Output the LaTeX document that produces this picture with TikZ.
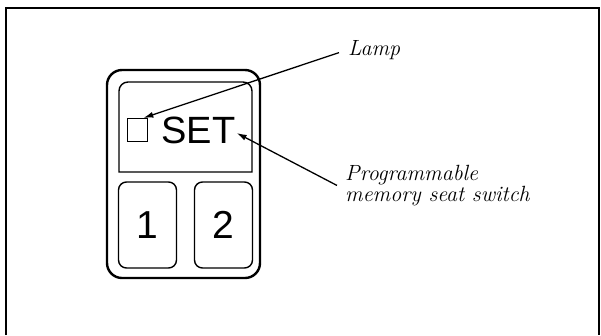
\documentclass[tikz,border=0pt]{standalone}
\usepackage{fontspec}
\setsansfont{Liberation Sans}
\usetikzlibrary{arrows.meta,positioning}

\begin{document}
\begin{tikzpicture}[x=1pt,y=-1pt,>={Latex[length=10pt,width=6pt]}]
  \tikzstyle{pad}=[draw,line width=1.4pt,rounded corners=8pt,minimum width=58pt,minimum height=86pt,inner sep=0pt]
  \tikzstyle{key}=[font=\fontsize{39}{39}\selectfont\sffamily]
  \tikzstyle{callout}=[font=\itshape\fontsize{22}{19}\selectfont,align=left,inner sep=0pt]
  \useasboundingbox (0,0) rectangle (601,335);
  % frame, open at the bottom
  \draw[line width=2pt] (5.5,335) -- (5.5,7.5) -- (599,7.5) -- (599,335);
  % switch body and SET window
  \draw[line width=2.4pt,rounded corners=15pt] (107,70) rectangle (260,278);
  \draw[line width=1.4pt] (119,172) [rounded corners=9pt] -- (119,82) -- (252,82) [sharp corners] -- (252,172) -- cycle;
  \node[font=\fontsize{38}{38}\selectfont\sffamily,inner sep=0pt] (set) at (198.5,130) {SET};
  \node[draw,line width=1.1pt,minimum width=20pt,minimum height=23pt,inner sep=0pt,left=13pt of set] (lamp) {};
  % memory buttons
  \node[pad,key] (one) at (147.5,225) {1};
  \node[pad,key] (two) at (223.5,225) {2};
  % labels
  \node[callout,anchor=base west] (lamplbl) at (348,55) {Lamp};
  \node[callout,anchor=north west] (prglbl) at (345,165) {Programmable\\memory seat switch};
  \draw[line width=1.3pt,->] ([xshift=-9pt,yshift=-3pt]lamplbl.west) -- ([xshift=-5pt]lamp.north east);
  \draw[line width=1.3pt,->] ([xshift=-8pt]prglbl.west) -- ([xshift=1pt,yshift=-3pt]set.east);
\end{tikzpicture}
\end{document}
